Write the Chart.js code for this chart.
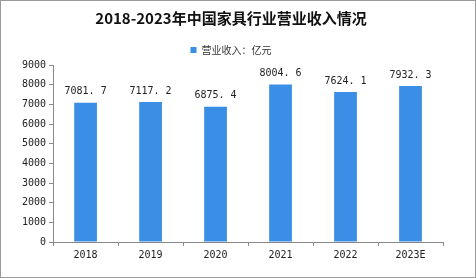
<!DOCTYPE html>
<html>
<head>
<meta charset="utf-8">
<script src="https://cdn.jsdelivr.net/npm/chart.js@4/dist/chart.umd.min.js"></script>
<style>
  html, body { margin: 0; padding: 0; background: #fff; }
  #wrap { position: relative; width: 474px; height: 276px; border: 1px solid #9a9a9a; }
</style>
</head>
<body>
<div id="wrap"><canvas id="stage" width="474" height="276"></canvas></div>
<script>
//カテゴリと値
var YEARS = ['2018', '2019', '2020', '2021', '2022', '2023E'];
var REVENUE = [7081.7, 7117.2, 6875.4, 8004.6, 7624.1, 7932.3];
var Y_TICKS = [0, 1000, 2000, 3000, 4000, 5000, 6000, 7000, 8000, 9000];
var SERIES_NAME = '营业收入：亿元';
var TITLE = '2018-2023年中国家具行业营业收入情况';

//棒の上に値を書く
var valueLabels = {
  id: 'valueLabels',
  afterDatasetsDraw: function(chart) {
    var ctx = chart.ctx;
    var meta = chart.getDatasetMeta(0);
    ctx.save();
    ctx.font = '10px "DejaVu Sans Mono", monospace';
    ctx.fillStyle = '#222';
    ctx.textAlign = 'center';
    ctx.textBaseline = 'bottom';
    meta.data.forEach(function(bar, i) {
      ctx.fillText(REVENUE[i].toFixed(1).replace('.', '. '), bar.x, bar.y - 6);
    });
    ctx.restore();
  }
};

var canvas = document.getElementById('stage');
new Chart(canvas, {
  type: 'bar',
  data: {
    labels: YEARS,
    datasets: [{
      label: SERIES_NAME,
      data: REVENUE,
      backgroundColor: '#3a8ee6',
      barPercentage: 0.7,
      categoryPercentage: 0.5
    }]
  },
  options: {
    responsive: false,
    animation: false,
    layout: { padding: { left: 18, right: 32, top: 0, bottom: 13 } },
    plugins: {
      title: {
        display: true,
        text: TITLE,
        color: '#111',
        font: { family: '"Noto Sans CJK SC"', size: 15, weight: 'bold' },
        padding: { top: 8, bottom: 8 }
      },
      legend: {
        labels: {
          boxWidth: 6, boxHeight: 6,
          color: '#333',
          font: { family: '"Noto Sans CJK SC"', size: 10 }
        }
      },
      tooltip: { enabled: false }
    },
    scales: {
      x: {
        grid: { display: true, drawOnChartArea: false, color: '#888', tickLength: 4, offset: true },
        border: { color: '#888' },
        ticks: { color: '#222', font: { family: '"DejaVu Sans Mono", monospace', size: 10 } }
      },
      y: {
        min: 0, max: 9000,
        afterBuildTicks: function(axis) { axis.ticks = Y_TICKS.map(function(v) { return { value: v }; }); },
        grid: { display: true, drawOnChartArea: false, color: '#888', tickLength: 4 },
        border: { color: '#888' },
        ticks: {
          color: '#222',
          font: { family: '"DejaVu Sans Mono", monospace', size: 10 },
          callback: function(v) { return String(v); }
        }
      }
    }
  },
  plugins: [valueLabels]
});
</script>
</body>
</html>
